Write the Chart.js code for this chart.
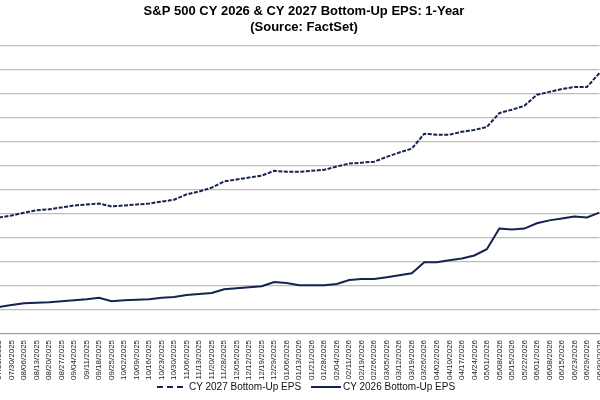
<!DOCTYPE html>
<html>
<head>
<meta charset="utf-8">
<script src="https://cdn.jsdelivr.net/npm/chart.js@4"></script>
<style>
  body { margin: 0; background: #fff; font-family: Arial, "Liberation Sans", sans-serif; }
  #wrap { position: relative; width: 600px; height: 400px; overflow: hidden; }
  #chartBox { position: absolute; left: -3px; top: 0; width: 614px; height: 382px; }
  #legend { position: absolute; top: 381px; left: 0; width: 600px; font-size: 10px; color: #111; }
  .lg { position: absolute; display: flex; align-items: center; }
  .sw { width: 26px; height: 0; margin-right: 6px; }
</style>
</head>
<body>
<div id="wrap">
  <div id="chartBox"><canvas id="c"></canvas></div>
  <div id="legend">
    <div class="lg" style="left:157px"><div class="sw" style="border-top:2px dashed #14234f"></div>CY 2027 Bottom-Up EPS</div>
    <div class="lg" style="left:311px"><div class="sw" style="border-top:2px solid #14234f;width:30px;margin-right:2px"></div>CY 2026 Bottom-Up EPS</div>
  </div>
</div>
<script>
const dates = ['07/23/2025','07/30/2025','08/06/2025','08/13/2025','08/20/2025','08/27/2025','09/04/2025','09/11/2025',
  '09/18/2025','09/25/2025','10/02/2025','10/09/2025','10/16/2025','10/23/2025','10/30/2025','11/06/2025','11/13/2025',
  '11/20/2025','11/28/2025','12/05/2025','12/12/2025','12/19/2025','12/29/2025','01/06/2026','01/13/2026','01/21/2026',
  '01/28/2026','02/04/2026','02/11/2026','02/19/2026','02/26/2026','03/05/2026','03/12/2026','03/19/2026','03/26/2026',
  '04/02/2026','04/10/2026','04/17/2026','04/24/2026','05/01/2026','05/08/2026','05/15/2026','05/22/2026','06/01/2026',
  '06/08/2026','06/15/2026','06/23/2026','06/29/2026','06/30/2026'];

const eps2027 = [279.2,279.6,280.2,280.7,280.9,281.3,281.7,281.9,282.1,281.5,281.7,281.9,282.1,282.5,282.9,284.0,284.6,
  285.4,286.7,287.1,287.5,287.9,288.9,288.7,288.7,288.9,289.1,289.8,290.4,290.6,290.8,291.8,292.7,293.5,296.6,296.4,
  296.4,297.0,297.4,298.0,300.9,301.6,302.4,304.7,305.3,305.9,306.3,306.3,309.2];

const eps2026 = [260.6,261.0,261.4,261.5,261.6,261.8,262.0,262.2,262.5,261.8,262.0,262.1,262.2,262.5,262.7,263.1,263.3,
  263.5,264.3,264.5,264.7,264.9,265.8,265.6,265.1,265.1,265.1,265.4,266.2,266.4,266.4,266.8,267.2,267.6,269.9,269.9,
  270.3,270.7,271.3,272.6,276.9,276.7,276.9,278.0,278.6,279.0,279.4,279.2,280.2];

const navy = '#14234f';

new Chart(document.getElementById('c'), {
  type: 'line',
  data: {
    labels: dates,
    datasets: [
      { label: 'CY 2027 Bottom-Up EPS', data: eps2027, borderColor: navy, borderWidth: 2,
        borderDash: [4, 1.5], pointRadius: 0, tension: 0 },
      { label: 'CY 2026 Bottom-Up EPS', data: eps2026, borderColor: navy, borderWidth: 2,
        pointRadius: 0, tension: 0 },
    ],
  },
  options: {
    responsive: true,
    maintainAspectRatio: false,
    animation: false,
    layout: { padding: { left: 0, right: 0, top: 0, bottom: 0 } },
    scales: {
      x: {
        offset: false,
        ticks: { autoSkip: false, maxRotation: 90, minRotation: 90, color: '#222',
                 font: { size: 8, family: 'Arial, "Liberation Sans", sans-serif' }, padding: 2 },
        grid: { display: false, drawOnChartArea: false, drawTicks: true, tickLength: 4, color: '#999' },
        border: { color: '#999' },
      },
      y: {
        min: 255, max: 315,
        ticks: { stepSize: 5, display: false },
        grid: { color: '#bdbdbd', lineWidth: 1.3, drawTicks: false },
        border: { display: false },
      },
    },
    plugins: {
      legend: { display: false },
      tooltip: { enabled: false },
      title: {
        display: true,
        text: ['S&P 500 CY 2026 & CY 2027 Bottom-Up EPS: 1-Year', '(Source: FactSet)'],
        color: '#000',
        font: { size: 13, weight: 'bold', family: 'Arial, "Liberation Sans", sans-serif', lineHeight: 1.2 },
        padding: { top: 4, bottom: 10 },
      },
    },
  },
});
</script>
</body>
</html>
